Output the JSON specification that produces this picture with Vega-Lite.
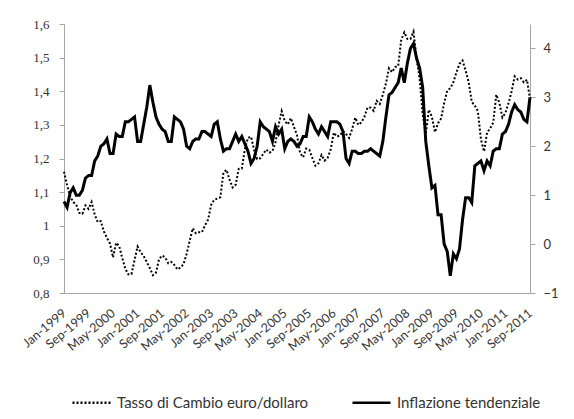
{
"$schema": "https://vega.github.io/schema/vega-lite/v6.json",
"width": 466, "height": 269,
"autosize": {"type": "none"},
"padding": {"left": 64, "top": 24, "right": 44, "bottom": 126},
"background": "white",
"config": {"view": {"stroke": null}, "font": "Lato"},
"data": {"values": [
{"m":"Jan-1999","fx":1.1608,"inf":0.87},{"m":"Feb-1999","fx":1.1208,"inf":0.75},{"m":"Mar-1999","fx":1.0883,"inf":1.05},{"m":"Apr-1999","fx":1.0704,"inf":1.15},{"m":"May-1999","fx":1.0628,"inf":1.0},{"m":"Jun-1999","fx":1.0378,"inf":1.0},{"m":"Jul-1999","fx":1.0353,"inf":1.1},{"m":"Aug-1999","fx":1.0604,"inf":1.35},{"m":"Sep-1999","fx":1.0501,"inf":1.4},{"m":"Oct-1999","fx":1.0706,"inf":1.4},{"m":"Nov-1999","fx":1.0338,"inf":1.7},{"m":"Dec-1999","fx":1.011,"inf":1.8},
{"m":"Jan-2000","fx":1.0137,"inf":2.0},{"m":"Feb-2000","fx":0.9834,"inf":2.05},{"m":"Mar-2000","fx":0.9643,"inf":2.15},{"m":"Apr-2000","fx":0.947,"inf":1.85},{"m":"May-2000","fx":0.906,"inf":1.85},{"m":"Jun-2000","fx":0.9492,"inf":2.25},{"m":"Jul-2000","fx":0.9397,"inf":2.2},{"m":"Aug-2000","fx":0.9041,"inf":2.2},{"m":"Sep-2000","fx":0.8721,"inf":2.5},{"m":"Oct-2000","fx":0.8552,"inf":2.5},{"m":"Nov-2000","fx":0.8564,"inf":2.55},{"m":"Dec-2000","fx":0.8973,"inf":2.6},
{"m":"Jan-2001","fx":0.9383,"inf":2.1},{"m":"Feb-2001","fx":0.9217,"inf":2.1},{"m":"Mar-2001","fx":0.9095,"inf":2.45},{"m":"Apr-2001","fx":0.892,"inf":2.8},{"m":"May-2001","fx":0.8742,"inf":3.25},{"m":"Jun-2001","fx":0.8532,"inf":2.9},{"m":"Jul-2001","fx":0.8607,"inf":2.6},{"m":"Aug-2001","fx":0.9005,"inf":2.45},{"m":"Sep-2001","fx":0.9111,"inf":2.35},{"m":"Oct-2001","fx":0.9059,"inf":2.3},{"m":"Nov-2001","fx":0.8883,"inf":2.1},{"m":"Dec-2001","fx":0.8924,"inf":2.1},
{"m":"Jan-2002","fx":0.8833,"inf":2.6},{"m":"Feb-2002","fx":0.87,"inf":2.55},{"m":"Mar-2002","fx":0.8758,"inf":2.5},{"m":"Apr-2002","fx":0.8858,"inf":2.35},{"m":"May-2002","fx":0.917,"inf":2.0},{"m":"Jun-2002","fx":0.9554,"inf":1.95},{"m":"Jul-2002","fx":0.9922,"inf":2.1},{"m":"Aug-2002","fx":0.9778,"inf":2.15},{"m":"Sep-2002","fx":0.9808,"inf":2.15},{"m":"Oct-2002","fx":0.9811,"inf":2.3},{"m":"Nov-2002","fx":1.0014,"inf":2.3},{"m":"Dec-2002","fx":1.0183,"inf":2.25},
{"m":"Jan-2003","fx":1.0622,"inf":2.2},{"m":"Feb-2003","fx":1.0773,"inf":2.45},{"m":"Mar-2003","fx":1.0807,"inf":2.5},{"m":"Apr-2003","fx":1.0848,"inf":2.15},{"m":"May-2003","fx":1.1582,"inf":1.9},{"m":"Jun-2003","fx":1.1663,"inf":1.95},{"m":"Jul-2003","fx":1.1372,"inf":1.95},{"m":"Aug-2003","fx":1.1139,"inf":2.1},{"m":"Sep-2003","fx":1.1222,"inf":2.25},{"m":"Oct-2003","fx":1.1692,"inf":2.1},{"m":"Nov-2003","fx":1.1702,"inf":2.2},{"m":"Dec-2003","fx":1.2286,"inf":2.05},
{"m":"Jan-2004","fx":1.2613,"inf":1.9},{"m":"Feb-2004","fx":1.2646,"inf":1.65},{"m":"Mar-2004","fx":1.2262,"inf":1.75},{"m":"Apr-2004","fx":1.1985,"inf":2.0},{"m":"May-2004","fx":1.2007,"inf":2.5},{"m":"Jun-2004","fx":1.2138,"inf":2.4},{"m":"Jul-2004","fx":1.2266,"inf":2.35},{"m":"Aug-2004","fx":1.2176,"inf":2.3},{"m":"Sep-2004","fx":1.2218,"inf":2.1},{"m":"Oct-2004","fx":1.249,"inf":2.4},{"m":"Nov-2004","fx":1.2991,"inf":2.25},{"m":"Dec-2004","fx":1.3408,"inf":2.35},
{"m":"Jan-2005","fx":1.3119,"inf":1.95},{"m":"Feb-2005","fx":1.3014,"inf":2.1},{"m":"Mar-2005","fx":1.3201,"inf":2.15},{"m":"Apr-2005","fx":1.2938,"inf":2.1},{"m":"May-2005","fx":1.2694,"inf":2.0},{"m":"Jun-2005","fx":1.2165,"inf":2.05},{"m":"Jul-2005","fx":1.2037,"inf":2.2},{"m":"Aug-2005","fx":1.2292,"inf":2.2},{"m":"Sep-2005","fx":1.2256,"inf":2.6},{"m":"Oct-2005","fx":1.2015,"inf":2.5},{"m":"Nov-2005","fx":1.1786,"inf":2.35},{"m":"Dec-2005","fx":1.1856,"inf":2.25},
{"m":"Jan-2006","fx":1.2103,"inf":2.4},{"m":"Feb-2006","fx":1.1938,"inf":2.3},{"m":"Mar-2006","fx":1.202,"inf":2.2},{"m":"Apr-2006","fx":1.2271,"inf":2.5},{"m":"May-2006","fx":1.277,"inf":2.5},{"m":"Jun-2006","fx":1.265,"inf":2.5},{"m":"Jul-2006","fx":1.2684,"inf":2.45},{"m":"Aug-2006","fx":1.2811,"inf":2.3},{"m":"Sep-2006","fx":1.2727,"inf":1.75},{"m":"Oct-2006","fx":1.2611,"inf":1.65},{"m":"Nov-2006","fx":1.2881,"inf":1.9},{"m":"Dec-2006","fx":1.3213,"inf":1.9},
{"m":"Jan-2007","fx":1.2999,"inf":1.85},{"m":"Feb-2007","fx":1.3074,"inf":1.85},{"m":"Mar-2007","fx":1.3242,"inf":1.9},{"m":"Apr-2007","fx":1.3516,"inf":1.9},{"m":"May-2007","fx":1.3511,"inf":1.95},{"m":"Jun-2007","fx":1.3419,"inf":1.9},{"m":"Jul-2007","fx":1.3716,"inf":1.85},{"m":"Aug-2007","fx":1.3622,"inf":1.8},{"m":"Sep-2007","fx":1.3896,"inf":2.1},{"m":"Oct-2007","fx":1.4227,"inf":2.6},{"m":"Nov-2007","fx":1.4684,"inf":3.05},{"m":"Dec-2007","fx":1.457,"inf":3.1},
{"m":"Jan-2008","fx":1.4718,"inf":3.2},{"m":"Feb-2008","fx":1.4748,"inf":3.3},{"m":"Mar-2008","fx":1.5527,"inf":3.6},{"m":"Apr-2008","fx":1.5751,"inf":3.3},{"m":"May-2008","fx":1.5557,"inf":3.7},{"m":"Jun-2008","fx":1.5553,"inf":4.0},{"m":"Jul-2008","fx":1.577,"inf":4.1},{"m":"Aug-2008","fx":1.4975,"inf":3.8},{"m":"Sep-2008","fx":1.437,"inf":3.6},{"m":"Oct-2008","fx":1.3322,"inf":3.2},{"m":"Nov-2008","fx":1.2732,"inf":2.1},{"m":"Dec-2008","fx":1.3449,"inf":1.6},
{"m":"Jan-2009","fx":1.3239,"inf":1.15},{"m":"Feb-2009","fx":1.2785,"inf":1.2},{"m":"Mar-2009","fx":1.305,"inf":0.6},{"m":"Apr-2009","fx":1.319,"inf":0.6},{"m":"May-2009","fx":1.365,"inf":0.0},{"m":"Jun-2009","fx":1.4016,"inf":-0.15},{"m":"Jul-2009","fx":1.4088,"inf":-0.65},{"m":"Aug-2009","fx":1.4268,"inf":-0.2},{"m":"Sep-2009","fx":1.4562,"inf":-0.3},{"m":"Oct-2009","fx":1.4816,"inf":-0.1},{"m":"Nov-2009","fx":1.4914,"inf":0.5},{"m":"Dec-2009","fx":1.4614,"inf":0.95},
{"m":"Jan-2010","fx":1.4272,"inf":0.95},{"m":"Feb-2010","fx":1.3686,"inf":0.85},{"m":"Mar-2010","fx":1.3569,"inf":1.6},{"m":"Apr-2010","fx":1.3406,"inf":1.65},{"m":"May-2010","fx":1.2565,"inf":1.7},{"m":"Jun-2010","fx":1.2209,"inf":1.5},{"m":"Jul-2010","fx":1.277,"inf":1.7},{"m":"Aug-2010","fx":1.2894,"inf":1.6},{"m":"Sep-2010","fx":1.3067,"inf":1.9},{"m":"Oct-2010","fx":1.3898,"inf":1.95},{"m":"Nov-2010","fx":1.3661,"inf":1.95},{"m":"Dec-2010","fx":1.322,"inf":2.25},
{"m":"Jan-2011","fx":1.336,"inf":2.3},{"m":"Feb-2011","fx":1.3649,"inf":2.45},{"m":"Mar-2011","fx":1.3999,"inf":2.7},{"m":"Apr-2011","fx":1.4442,"inf":2.85},{"m":"May-2011","fx":1.4349,"inf":2.75},{"m":"Jun-2011","fx":1.4388,"inf":2.7},{"m":"Jul-2011","fx":1.4264,"inf":2.55},{"m":"Aug-2011","fx":1.4343,"inf":2.5},{"m":"Sep-2011","fx":1.377,"inf":3.0}
]},
"encoding": {
  "x": {"field": "m", "type": "ordinal", "sort": null,
    "scale": {"type": "point", "padding": 0},
    "axis": {"title": null, "values": ["Jan-1999","Sep-1999","May-2000","Jan-2001","Sep-2001","May-2002","Jan-2003","Sep-2003","May-2004","Jan-2005","Sep-2005","May-2006","Jan-2007","Sep-2007","May-2008","Jan-2009","Sep-2009","May-2010","Jan-2011","Sep-2011"],
      "labelAngle": -40, "labelAlign": "right", "labelBaseline": "middle", "labelFont": "Lato", "labelFontSize": 12.5, "labelColor": "#333333",
      "ticks": false, "labelPadding": 18, "domainColor": "#a6a6a6", "grid": false, "labelOverlap": false}
  }
},
"layer": [
  {"mark": {"type": "line", "color": "black", "strokeWidth": 3, "strokeJoin": "miter"},
   "encoding": {
     "y": {"field": "inf", "type": "quantitative",
       "scale": {"domain": [-1, 4.5], "zero": false, "nice": false},
       "axis": {"orient": "right", "title": null, "values": [-1,0,1,2,3,4], "grid": false, "domainColor": "#a6a6a6", "tickColor": "#a6a6a6", "tickSize": 5, "labelPadding": 8, "labelFont": "Lato", "labelFontSize": 13, "labelColor": "#333333"}},
     "strokeDash": {"datum": "Inflazione tendenziale", "type": "nominal"}
   }},
  {"mark": {"type": "line", "color": "black", "strokeWidth": 2},
   "encoding": {
     "y": {"field": "fx", "type": "quantitative",
       "scale": {"domain": [0.8, 1.6], "zero": false, "nice": false},
       "axis": {"orient": "left", "title": null, "values": [0.8,0.9,1.0,1.1,1.2,1.3,1.4,1.5,1.6], "grid": false, "domainColor": "#a6a6a6", "tickColor": "#a6a6a6", "tickSize": 5, "labelPadding": 10, "labelFont": "Liberation Serif", "labelFontSize": 13, "labelColor": "#333333",
         "labelExpr": "replace(format(datum.value, '.1~f'), '.', ',')"}},
     "strokeDash": {"datum": "Tasso di Cambio euro/dollaro", "type": "nominal",
       "scale": {"domain": ["Tasso di Cambio euro/dollaro", "Inflazione tendenziale"], "range": [[2, 2], [1, 0]]},
       "legend": {"title": null, "orient": "none", "legendX": 7, "legendY": 358, "direction": "horizontal",
         "symbolType": "stroke", "symbolSize": 1444, "symbolStrokeWidth": 2.5, "symbolStrokeColor": "black",
         "labelFont": "Lato", "labelFontSize": 15, "labelColor": "#333333", "labelOffset": 5, "columnPadding": 38, "labelLimit": 400}}
   }}
],
"resolve": {"scale": {"y": "independent"}}
}
